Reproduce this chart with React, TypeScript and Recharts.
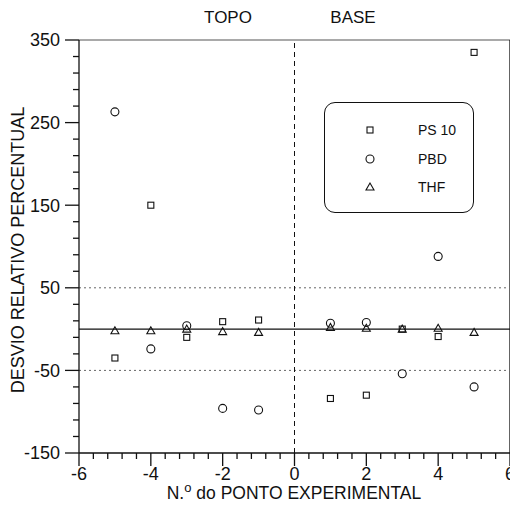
import { ScatterChart, Scatter, XAxis, YAxis, ReferenceLine } from "recharts"

// experimental point numbers (x)
const pontos = [-5, -4, -3, -2, -1, 1, 2, 3, 4, 5]

// desvio relativo percentual per solvent
const ps10 = [-35, 150, -10, 9, 11, -84, -80, 0, -9, 335]
const pbd = [263, -24, 4, -96, -98, 7, 8, -54, 88, -70]
const thf = [-2, -2, 0, -3, -4, 2, 1, 0, 1, -4]

const xMajorTicks = [-6, -4, -2, 0, 2, 4, 6]
const yMajorTicks = [-150, -50, 50, 150, 250, 350]

// minor ticks: 5 divisions between majors
const subdivide = (majors: number[]) => {
  const out: number[] = []
  for (let i = 0; i < majors.length - 1; i++) {
    const step = (majors[i + 1] - majors[i]) / 5
    for (let k = 0; k < 5; k++) out.push(+(majors[i] + k * step).toFixed(4))
  }
  out.push(majors[majors.length - 1])
  return out
}
const xTicks = subdivide(xMajorTicks)
const yTicks = subdivide(yMajorTicks)

const toPoints = (ys: number[]) => pontos.map((x, i) => ({ x, y: ys[i] }))

const font = "'Liberation Sans', Arial, sans-serif"

const Square = (p: any) => (
  <rect x={p.cx - 3} y={p.cy - 3} width={6} height={6} fill="none" stroke="#111" strokeWidth={1.1} />
)
const Circle = (p: any) => <circle cx={p.cx} cy={p.cy} r={4} fill="none" stroke="#111" strokeWidth={1.1} />
const Triangle = (p: any) => (
  <polygon
    points={`${p.cx},${p.cy - 4} ${p.cx - 4},${p.cy + 3} ${p.cx + 4},${p.cy + 3}`}
    fill="none"
    stroke="#111"
    strokeWidth={1.1}
  />
)

const YTick = ({ x, y, payload }: any) => {
  const major = yMajorTicks.includes(payload.value)
  return (
    <g>
      <line x1={x - (major ? 14 : 6)} x2={x} y1={y} y2={y} stroke="#111" strokeWidth={1.3} />
      {major && (
        <text x={x - 19} y={y} dy="0.35em" textAnchor="end" fontSize={18} fill="#111" fontFamily={font}>
          {payload.value}
        </text>
      )}
    </g>
  )
}

const XTick = ({ x, y, payload }: any) => {
  const major = xMajorTicks.includes(payload.value)
  return (
    <g>
      <line x1={x} x2={x} y1={y} y2={y + (major ? 13 : 6)} stroke="#111" strokeWidth={1.3} />
      {major && (
        <text x={x} y={y + 27} textAnchor="middle" fontSize={18} fill="#111" fontFamily={font}>
          {payload.value}
        </text>
      )}
    </g>
  )
}

const legendItems = [
  { name: "PS 10", Shape: Square },
  { name: "PBD", Shape: Circle },
  { name: "THF", Shape: Triangle },
]

export default function App() {
  return (
    <div style={{ position: "relative", width: 510, height: 498, fontFamily: font, color: "#111" }}>
      <style>{"html { overflow: hidden; }"}</style>
      <ScatterChart width={522} height={498} margin={{ top: 32, right: 20, bottom: 0, left: 0 }}>
        <XAxis
          type="number"
          dataKey="x"
          domain={[-6, 6]}
          ticks={xTicks}
          interval={0}
          tickSize={0}
          tickMargin={0}
          tick={<XTick />}
          height={53}
          stroke="#111"
          strokeWidth={1.3}
          allowDataOverflow
        />
        <YAxis
          type="number"
          dataKey="y"
          domain={[-150, 350]}
          ticks={yTicks}
          interval={0}
          tickSize={0}
          tickMargin={0}
          tick={<YTick />}
          width={71}
          stroke="#111"
          strokeWidth={1.3}
          allowDataOverflow
        />
        <ReferenceLine y={350} stroke="#555" strokeWidth={1.2} />
        <ReferenceLine x={6} stroke="#111" strokeWidth={1.3} />
        <ReferenceLine y={50} stroke="#666" strokeDasharray="2 3" />
        <ReferenceLine y={-50} stroke="#666" strokeDasharray="2 3" />
        <ReferenceLine y={0} stroke="#111" strokeWidth={1.3} />
        <ReferenceLine x={0} stroke="#111" strokeDasharray="5 4" />
        <Scatter data={toPoints(thf)} shape={Triangle} isAnimationActive={false} />
        <Scatter data={toPoints(ps10)} shape={Square} isAnimationActive={false} />
        <Scatter data={toPoints(pbd)} shape={Circle} isAnimationActive={false} />
      </ScatterChart>

      <div style={{ position: "absolute", left: 220, top: 10, transform: "translate(-50%, -50%)", fontSize: 17 }}>TOPO</div>
      <div style={{ position: "absolute", left: 345, top: 10, transform: "translate(-50%, -50%)", fontSize: 17 }}>BASE</div>
      <div
        style={{
          position: "absolute",
          left: 10,
          top: 242,
          transform: "translate(-50%, -50%) rotate(-90deg)",
          fontSize: 18,
          whiteSpace: "nowrap",
        }}
      >
        DESVIO RELATIVO PERCENTUAL
      </div>
      <div
        style={{
          position: "absolute",
          left: 286,
          top: 485,
          transform: "translate(-50%, -50%)",
          fontSize: 17.5,
          whiteSpace: "nowrap",
        }}
      >
        N.<sup style={{ fontSize: 13, verticalAlign: "0.5em", lineHeight: 0 }}>o</sup> do PONTO EXPERIMENTAL
      </div>

      <div
        style={{
          position: "absolute",
          left: 316,
          top: 94,
          width: 150,
          height: 111,
          border: "1.2px solid #111",
          borderRadius: 11,
          boxSizing: "border-box",
          background: "#fff",
        }}
      >
        {legendItems.map(({ name, Shape }, i) => (
          <div key={name} style={{ position: "absolute", left: 0, top: 27 + i * 28.5 - 10, height: 20, width: 150 }}>
            <svg width={20} height={20} style={{ position: "absolute", left: 35, top: 0 }}>
              <Shape cx={10} cy={10} />
            </svg>
            <span style={{ position: "absolute", left: 93, top: 1, fontSize: 14, lineHeight: "18px" }}>{name}</span>
          </div>
        ))}
      </div>
    </div>
  )
}
